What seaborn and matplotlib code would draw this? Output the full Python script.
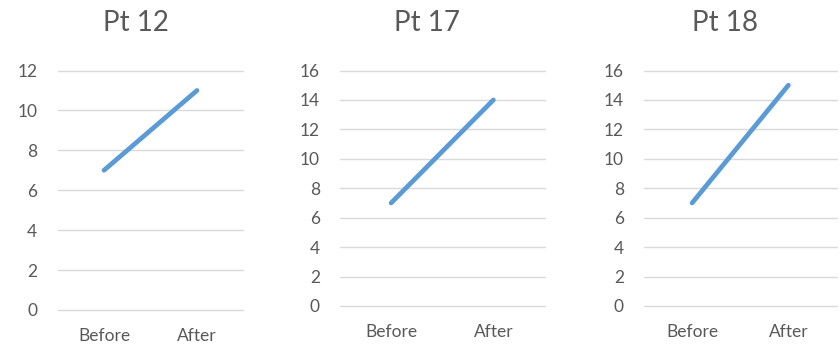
import matplotlib
matplotlib.use("Agg")
import matplotlib.pyplot as plt
import seaborn as sns
import pandas as pd

# Patient scores before and after
stages = ["Before", "After"]
patients = ["Pt 12", "Pt 17", "Pt 18"]
pt12_scores = [7, 11]
pt17_scores = [7, 14]
pt18_scores = [7, 15]
y_limits = [12, 16, 16]
y_steps = [2, 2, 2]

sns.set_theme(style="white")
plt.rcParams["font.family"] = ["Lato", "DejaVu Sans"]

TEXT = "#595959"
LINE = "#5B9BD5"
GRID = "#D9D9D9"

fig = plt.figure(figsize=(8.4, 3.44), dpi=100)
W, H = 840.0, 344.0

# axes boxes in pixel terms: left, right, top gridline y, zero gridline y
boxes = [
    (57.5, 243.5, 70.5, 310.0),
    (340.0, 544.5, 70.5, 306.0),
    (644.0, 836.5, 70.5, 306.0),
]
title_x = [135.5, 427.5, 725.0]

series = [pt12_scores, pt17_scores, pt18_scores]

for name, vals, ymax, step, box, tx in zip(patients, series, y_limits, y_steps, boxes, title_x):
    l, r, t, b = box
    ax = fig.add_axes([l / W, (H - b) / H, (r - l) / W, (b - t) / H])
    df = pd.DataFrame({"stage": stages, "value": vals})
    sns.lineplot(data=df, x="stage", y="value", ax=ax, sort=False,
                 color=LINE, linewidth=3.4, solid_capstyle="round")
    ax.set_xlim(-0.5, 1.5)
    ax.set_ylim(0, ymax)
    ax.set_yticks(range(0, ymax + 1, step))
    ax.set_xlabel("")
    ax.set_ylabel("")
    ax.grid(axis="y", color=GRID, linewidth=1.0)
    ax.grid(axis="x", visible=False)
    ax.set_axisbelow(True)
    for gl in ax.get_ygridlines():
        gl.set_clip_on(False)
    for s in ax.spines.values():
        s.set_visible(False)
    ax.tick_params(axis="both", length=0, colors=TEXT, labelsize=12.5)
    ax.tick_params(axis="y", pad=14.5)
    ax.tick_params(axis="x", pad=13)
    ax.patch.set_alpha(0)
    fig.text(tx / W, (H - 23) / H, name, ha="center", va="center",
             fontsize=20, color=TEXT)

fig.savefig("out.png", dpi=100, facecolor="white")
